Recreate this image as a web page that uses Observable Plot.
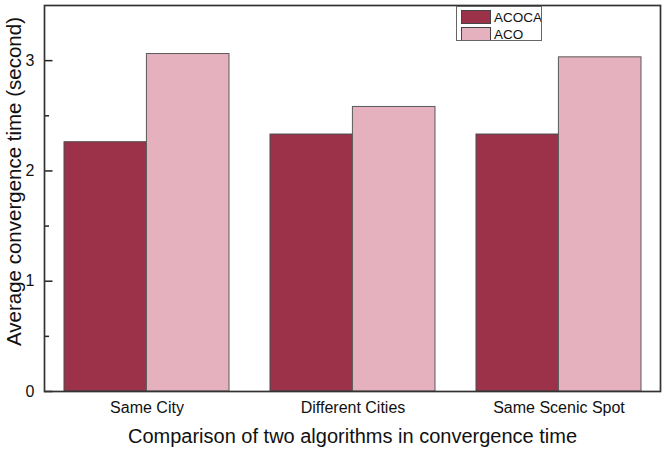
<!DOCTYPE html>
<html><head><meta charset="utf-8">
<script src="https://cdn.jsdelivr.net/npm/d3@7"></script>
<script src="https://cdn.jsdelivr.net/npm/@observablehq/plot@0.6"></script>
<style>
body{margin:0;background:#fff;}
#wrap{position:relative;width:666px;height:452px;font-family:"Liberation Sans",Arial,sans-serif;}
#legend{position:absolute;left:455.5px;top:6px;width:86px;height:35px;border:1px solid #666;box-sizing:border-box;background:#fff;overflow:hidden;}
.sw{position:absolute;left:4px;width:30px;height:14px;border:1px solid #444;box-sizing:border-box;}
.lt{position:absolute;left:37.5px;font-size:13.5px;line-height:14px;color:#111;}
</style></head><body><div id="wrap"></div>
<script>
const categories = ["Same City", "Different Cities", "Same Scenic Spot"];
const seriesNames = ["ACOCA", "ACO"];
const acocaValues = [2.26, 2.33, 2.33];
const acoValues = [3.06, 2.58, 3.03];
const colors = ["#9b3249", "#e6b1be"];
const yTicks = [0, 1, 2, 3];
const yMinorTicks = [0.5, 1.5, 2.5];
const xTitle = "Comparison of two algorithms in convergence time";
const yTitle = "Average convergence time (second)";

const acocaData = categories.map((c, i) => ({category: c, value: acocaValues[i]}));
const acoData = categories.map((c, i) => ({category: c, value: acoValues[i]}));

const W = 666, H = 452, mL = 44, mR = 6, mT = 5, mB = 61;
const pIn = 0.2, pOut = 0.095;
const step = (W - mL - mR) / (categories.length - pIn + 2 * pOut);
const half = step * (1 - pIn) / 2;
const font = "'Liberation Sans', Arial, sans-serif";

const plot = Plot.plot({
  width: W, height: H,
  marginLeft: mL, marginRight: mR, marginTop: mT, marginBottom: mB,
  style: {fontFamily: font, color: "#111", background: "#fff"},
  x: {domain: categories, paddingInner: pIn, paddingOuter: pOut, axis: null},
  y: {domain: [0, 3.5], axis: null},
  marks: [
    Plot.barY(acocaData, {x: "category", y: "value", fill: colors[0], stroke: "#4a4a4a", strokeWidth: 1, insetRight: half}),
    Plot.barY(acoData, {x: "category", y: "value", fill: colors[1], stroke: "#5a5a5a", strokeWidth: 1, insetLeft: half}),
    Plot.axisX({domain: categories, tickSize: 0, tickPadding: 10, fontSize: 16, label: null}),
    Plot.axisY(yTicks, {tickSize: -8.5, tickPadding: 18.5, fontSize: 16, label: null, tickFormat: d => String(d), stroke: "#222", strokeWidth: 1.5}),
    Plot.axisY(yMinorTicks, {tickSize: -5, tickFormat: () => "", label: null, stroke: "#222", strokeWidth: 1.5}),
    Plot.frame({stroke: "#333", strokeWidth: 1.7}),
    Plot.text([xTitle], {frameAnchor: "bottom", lineAnchor: "bottom", textAnchor: "middle", dy: 51, fontSize: 20, fill: "#111"}),
    Plot.text([yTitle], {frameAnchor: "left", lineAnchor: "bottom", textAnchor: "middle", rotate: -90, dx: -23.5, dy: -17, fontSize: 20.5, fill: "#111"})
  ]
});
const wrap = document.getElementById("wrap");
wrap.appendChild(plot);

const legend = document.createElement("div");
legend.id = "legend";
seriesNames.forEach((name, i) => {
  const sw = document.createElement("div");
  sw.className = "sw";
  sw.style.top = (3 + i * 17) + "px";
  sw.style.background = colors[i];
  legend.appendChild(sw);
  const t = document.createElement("div");
  t.className = "lt";
  t.style.top = (4 + i * 17) + "px";
  t.textContent = name;
  legend.appendChild(t);
});
wrap.appendChild(legend);
</script>
</body></html>
